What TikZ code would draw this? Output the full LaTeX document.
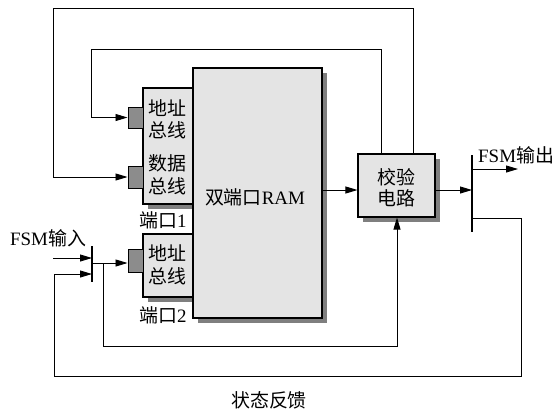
\documentclass[tikz,border=0pt]{standalone}
\usepackage{fontspec}
\setmainfont{Liberation Serif}
\newfontfamily\cjk{Noto Sans CJK SC}
\usetikzlibrary{arrows.meta,shadows}
\definecolor{boxgray}{HTML}{E4E4E4}
\definecolor{shadowgray}{HTML}{7F7F7F}
\definecolor{portgray}{HTML}{8C8C8C}
\begin{document}
\begin{tikzpicture}[x=1bp,y=-1bp,
  blk/.style={draw, line width=1.1bp, fill=boxgray, inner sep=0pt,
    drop shadow={shadow xshift=5bp, shadow yshift=-5bp, fill=shadowgray, opacity=1}},
  portsq/.style={draw, line width=1bp, fill=portgray, inner sep=0pt, minimum width=15bp},
  wire/.style={line width=0.9bp},
  arr/.style={wire, -{Triangle[length=12bp,width=7bp]}},
  bar/.style={line width=2bp},
  lbl/.style={inner sep=0pt, font=\fontsize{19}{22}\selectfont},
]
\useasboundingbox (0,0) rectangle (557,412);
% blocks
\node[blk, minimum width=50bp, minimum height=116bp] (p1) at (168,146) {};
\node[blk, minimum width=50bp, minimum height=63bp] (p2) at (168,265.5) {};
\node[blk, minimum width=129bp, minimum height=250bp] (ram) at (257.5,193) {};
\node[blk, minimum width=77bp, minimum height=63bp] (ver) at (396.5,185.5) {};
\node[portsq, minimum height=21bp] (a1) at (135.5,117.5) {};
\node[portsq, minimum height=22bp] (d1) at (135.5,177) {};
\node[portsq, minimum height=23bp] (a2) at (135.5,261) {};
% texts
\node[lbl] (t1) at (167,108) {\cjk 地址};
\node[lbl] (t2) at (167,130) {\cjk 总线};
\node[lbl] (t3) at (167,163) {\cjk 数据};
\node[lbl] (t4) at (167,186) {\cjk 总线};
\node[lbl] (t5) at (167,253) {\cjk 地址};
\node[lbl] (t6) at (167,276) {\cjk 总线};
\node[lbl] (l1) at (163,220) {{\cjk 端口}1};
\node[lbl] (l2) at (163,315) {{\cjk 端口}2};
\node[lbl] (tr) at (255,197) {{\cjk 双端口}RAM};
\node[lbl] (tv1) at (396.5,177) {\cjk 校验};
\node[lbl] (tv2) at (396.5,198) {\cjk 电路};
\node[lbl, anchor=west] (fo) at (478,155) {FSM{\cjk 输出}};
\node[lbl, anchor=west] (fi) at (10,238) {FSM{\cjk 输入}};
\node[lbl] (fb) at (269,400) {\cjk 状态反馈};
% bars
\coordinate (ib1) at (92,246); \coordinate (ib2) at (92,282);
\coordinate (ob1) at (472,155); \coordinate (ob2) at (472,232);
\draw[bar] (ib1) -- (ib2);
\draw[bar] (ob1) -- (ob2);
% route points
\coordinate (y190) at (0,190);
\coordinate (o1) at (472,169); \coordinate (o2) at (518,169);
\coordinate (f1) at (472,218); \coordinate (f2) at (521,218);
\coordinate (f3) at (521,376); \coordinate (f4) at (54,376);
\coordinate (f5) at (54,274); \coordinate (f6) at (92,274);
\coordinate (i1) at (53,258); \coordinate (i2) at (92,258);
\coordinate (s1) at (92,263); \coordinate (s2) at (103,263);
\coordinate (b1) at (103,346); \coordinate (b2) at (397,346);
\coordinate (u1) at (413,8); \coordinate (u2) at (53,8);
\coordinate (v1) at (381,49); \coordinate (v2) at (91,49);
% connectors
\draw[arr] (ram.east |- y190) -- (ver.west |- y190);
\draw[arr] (ver.east |- y190) -- (ob1 |- y190);
\draw[arr] (o1) -- (o2);
\draw[arr] (f1) -- (f2) -- (f3) -- (f4) -- (f5) -- (f6);
\draw[arr] (i1) -- (i2);
\draw[arr] (s1) -- (a2.west |- s1);
\draw[arr] (s2) -- (b1) -- (b2) -- (b2 |- ver.south);
\draw[arr] (ver.north -| u1) -- (u1) -- (u2) -- (u2 |- d1.west) -- (d1.west);
\draw[arr] (ver.north -| v1) -- (v1) -- (v2) -- (v2 |- a1.west) -- (a1.west);
\end{tikzpicture}
\end{document}
